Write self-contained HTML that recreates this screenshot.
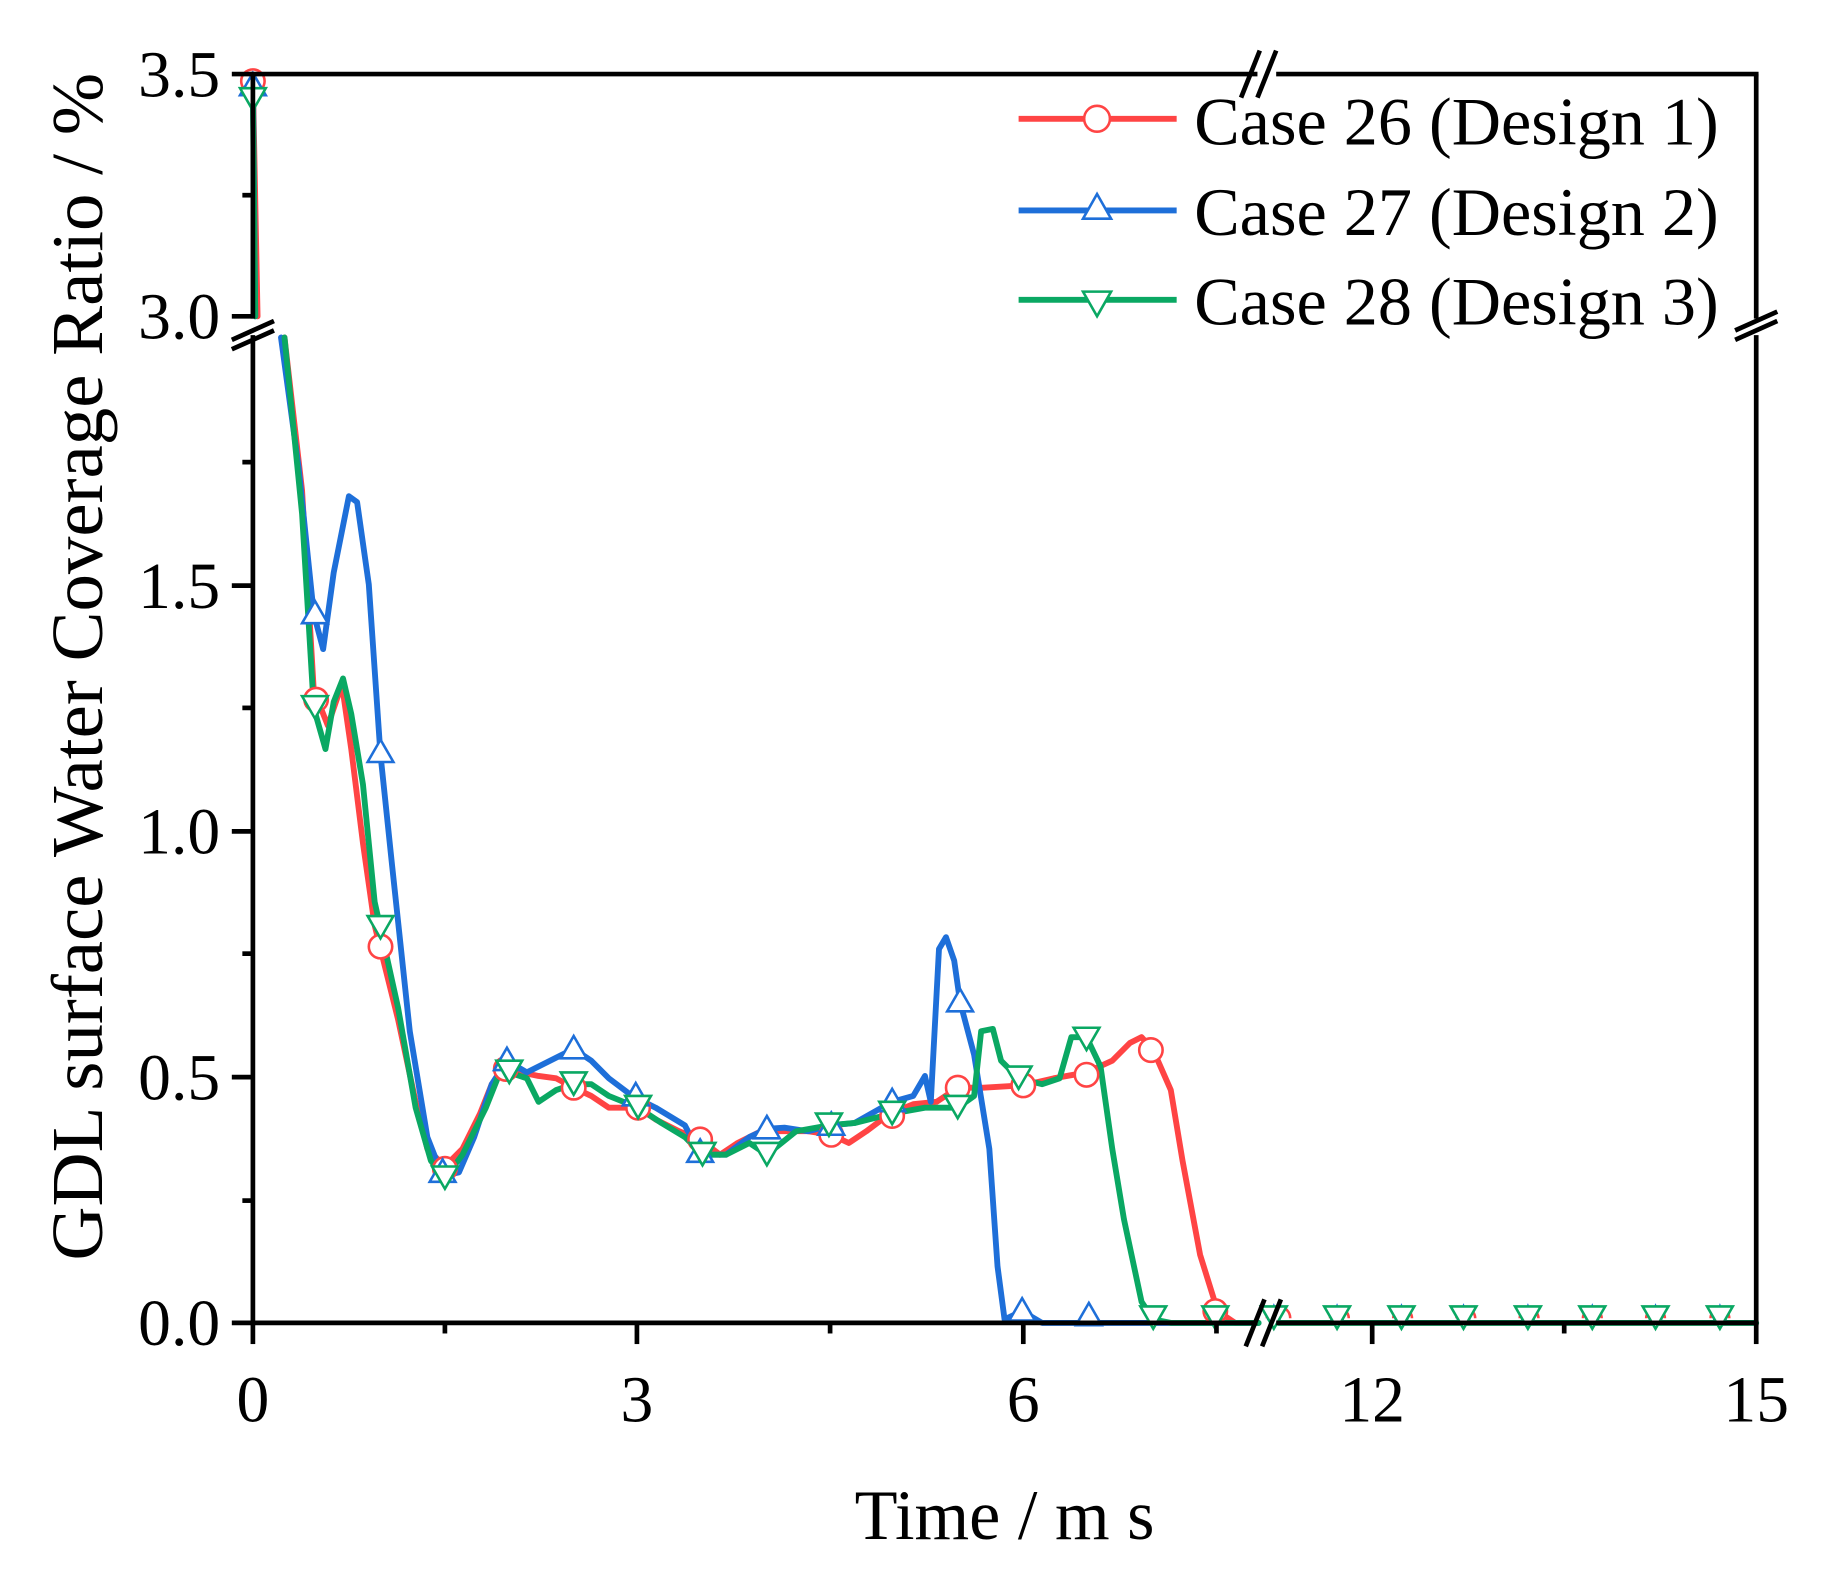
<!DOCTYPE html>
<html><head><meta charset="utf-8"><style>html,body{margin:0;padding:0;background:#fff}svg{display:block}</style></head>
<body>
<svg width="1837" height="1591" viewBox="0 3 1569 1353" preserveAspectRatio="none" xmlns="http://www.w3.org/2000/svg" font-family="Liberation Serif, serif">
<defs>
<circle id="c" r="10" fill="#fff" stroke="#f44" stroke-width="2.2"/>
<path id="t" d="M0,-11 L11,8 L-11,8 Z" fill="#fff" stroke="#1e6fd9" stroke-width="2.2"/>
<path id="v" d="M0,11 L11,-8 L-11,-8 Z" fill="#fff" stroke="#0aa863" stroke-width="2.2"/>
</defs>
<g fill="none" stroke-width="5" stroke-linejoin="round" stroke-linecap="round">
<polyline stroke="#f44" points="216,72 220,272"/>
<polyline stroke="#f44" points="243,290 258,420 268,590 280,620 292,585 300,640 310,720 320,790 340,870 355,940 365,980 380,995 395,980 410,950 420,925 432,912 445,915 460,918 475,920 490,928 505,935 520,945 545,945 560,955 580,965 598,972 615,985 630,975 650,965 670,965 690,965 710,968 725,975 740,965 760,950 780,942 800,940 818,928 840,928 874,926 900,920 928,915 950,905 965,890 975,885 985,896 1000,930 1010,990 1025,1070 1040,1118 1055,1128 1075,1128"/>
<polyline stroke="#1e6fd9" points="216,66 218,272"/>
<polyline stroke="#1e6fd9" points="240,290 255,400 268,525 276,555 285,490 298,425 305,430 315,500 325,645 335,740 350,880 365,970 378,1003 392,1000 405,970 420,925 433,905 450,915 470,905 490,895 505,905 520,920 540,935 560,945 585,960 598,985 620,985 640,970 655,963 670,962 690,965 710,960 730,958 762,940 780,935 790,918 795,940 802,810 808,800 815,820 820,855 832,900 845,980 852,1080 858,1125 873,1118 890,1128 1075,1128"/>
<polyline stroke="#0aa863" points="216,86 218,272"/>
<polyline stroke="#0aa863" points="243,290 258,440 268,605 278,640 285,600 293,580 300,610 310,670 320,770 340,860 355,945 368,990 380,1005 395,985 415,945 425,920 435,915 450,920 460,940 475,930 490,925 505,925 520,935 545,945 565,958 585,970 600,985 620,985 640,975 655,985 680,965 708,960 730,958 762,950 790,945 818,945 832,935 838,880 848,878 855,905 870,920 890,925 905,920 915,885 928,885 940,910 950,980 960,1040 975,1110 985,1125 1000,1128 1075,1128"/>
<polyline stroke="#0aa863" points="1092,1128 1500,1128"/>
</g>
<g>
<use href="#c" x="216" y="72"/><use href="#c" x="270" y="598"/><use href="#c" x="325" y="808"/><use href="#c" x="380" y="997"/><use href="#c" x="432" y="912"/><use href="#c" x="490" y="928"/><use href="#c" x="545" y="945"/><use href="#c" x="598" y="972"/><use href="#c" x="710" y="968"/><use href="#c" x="762" y="952"/><use href="#c" x="818" y="928"/><use href="#c" x="874" y="926"/><use href="#c" x="928" y="917"/><use href="#c" x="983" y="896"/><use href="#c" x="1038" y="1118"/>
<use href="#t" x="216" y="76"/><use href="#t" x="269" y="525"/><use href="#t" x="325" y="643"/><use href="#t" x="378" y="1000"/><use href="#t" x="433" y="905"/><use href="#t" x="490" y="895"/><use href="#t" x="543" y="935"/><use href="#t" x="598" y="983"/><use href="#t" x="655" y="963"/><use href="#t" x="710" y="960"/><use href="#t" x="762" y="940"/><use href="#t" x="820" y="855"/><use href="#t" x="873" y="1118"/><use href="#t" x="930" y="1122"/>
<use href="#v" x="216" y="86"/><use href="#v" x="269" y="603"/><use href="#v" x="325" y="790"/><use href="#v" x="380" y="1003"/><use href="#v" x="435" y="913"/><use href="#v" x="490" y="923"/><use href="#v" x="545" y="943"/><use href="#v" x="600" y="983"/><use href="#v" x="655" y="983"/><use href="#v" x="708" y="958"/><use href="#v" x="762" y="948"/><use href="#v" x="818" y="943"/><use href="#v" x="870" y="918"/><use href="#v" x="928" y="885"/><use href="#v" x="985" y="1122"/><use href="#v" x="1038" y="1122"/>
<g stroke-width="2.2" fill="none">
<path stroke="#f44" d="M1082,1124 a10,10 0 0 1 20,0 M1136,1124 a8,8 0 0 1 16,0 M1190,1124 a8,8 0 0 1 16,0 M1244,1124 a8,8 0 0 1 16,0 M1298,1124 a8,8 0 0 1 16,0 M1352,1124 a8,8 0 0 1 16,0 M1406,1124 a8,8 0 0 1 16,0 M1461,1124 a8,8 0 0 1 16,0"/>
<path stroke="#1e6fd9" d="M1083,1126 L1088,1114 L1093,1126 M1137,1126 L1142,1114 L1147,1126 M1192,1126 L1197,1114 L1202,1126 M1245,1126 L1250,1114 L1255,1126 M1300,1126 L1305,1114 L1310,1126 M1355,1126 L1360,1114 L1365,1126 M1409,1126 L1414,1114 L1419,1126 M1464,1126 L1469,1114 L1474,1126"/>
</g>
<use href="#v" x="1088" y="1122"/><use href="#v" x="1142" y="1122"/><use href="#v" x="1197" y="1122"/><use href="#v" x="1250" y="1122"/><use href="#v" x="1305" y="1122"/><use href="#v" x="1360" y="1122"/><use href="#v" x="1414" y="1122"/><use href="#v" x="1469" y="1122"/>
</g>
<g stroke="#000" stroke-width="4" fill="none">
<line x1="216" y1="66" x2="216" y2="274"/>
<line x1="216" y1="288" x2="216" y2="1130"/>
<line x1="1500" y1="66" x2="1500" y2="274"/>
<line x1="1500" y1="288" x2="1500" y2="1130"/>
<line x1="214" y1="66" x2="1074" y2="66"/>
<line x1="1090" y1="66" x2="1502" y2="66"/>
<line x1="214" y1="1128" x2="1074" y2="1128"/>
<line x1="1090" y1="1128" x2="1502" y2="1128"/>
<line x1="216" y1="1128" x2="198" y2="1128"/><line x1="216" y1="919" x2="198" y2="919"/><line x1="216" y1="710" x2="198" y2="710"/><line x1="216" y1="501" x2="198" y2="501"/>
<line x1="216" y1="1024" x2="207" y2="1024"/><line x1="216" y1="814" x2="207" y2="814"/><line x1="216" y1="605" x2="207" y2="605"/><line x1="216" y1="396" x2="207" y2="396"/>
<line x1="216" y1="272" x2="198" y2="272"/><line x1="216" y1="66" x2="198" y2="66"/><line x1="216" y1="169" x2="207" y2="169"/>
<line x1="216" y1="1128" x2="216" y2="1146"/><line x1="544" y1="1128" x2="544" y2="1146"/><line x1="874" y1="1128" x2="874" y2="1146"/><line x1="1172" y1="1128" x2="1172" y2="1146"/><line x1="1500" y1="1128" x2="1500" y2="1146"/>
<line x1="380" y1="1128" x2="380" y2="1137"/><line x1="709" y1="1128" x2="709" y2="1137"/><line x1="1039" y1="1128" x2="1039" y2="1137"/><line x1="1336" y1="1128" x2="1336" y2="1137"/>
<line x1="1060" y1="86" x2="1076" y2="46"/><line x1="1074" y1="86" x2="1090" y2="46"/>
<line x1="1064" y1="1148" x2="1080" y2="1108"/><line x1="1078" y1="1148" x2="1094" y2="1108"/>
<line x1="198" y1="292" x2="234" y2="276"/><line x1="198" y1="300" x2="234" y2="284"/>
<line x1="1482" y1="284" x2="1518" y2="268"/><line x1="1482" y1="292" x2="1518" y2="276"/>
</g>
<g font-size="56" fill="#000" text-anchor="end">
<text x="188" y="85">3.5</text><text x="188" y="291">3.0</text>
<text x="188" y="520">1.5</text><text x="188" y="729">1.0</text><text x="188" y="938">0.5</text><text x="188" y="1147">0.0</text>
</g>
<g font-size="56" fill="#000" text-anchor="middle">
<text x="216" y="1212">0</text><text x="544" y="1212">3</text><text x="874" y="1212">6</text><text x="1172" y="1212">12</text><text x="1500" y="1212">15</text>
</g>
<text x="858" y="1312" font-size="60" text-anchor="middle">Time / m s</text>
<text transform="translate(87,570) rotate(-90)" font-size="62" text-anchor="middle" textLength="1010" lengthAdjust="spacingAndGlyphs">GDL surface Water Coverage Ratio / %</text>
<g stroke-width="5">
<line x1="870" y1="104" x2="1005" y2="104" stroke="#f44"/>
<line x1="870" y1="182" x2="1005" y2="182" stroke="#1e6fd9"/>
<line x1="870" y1="258" x2="1005" y2="258" stroke="#0aa863"/>
</g>
<circle cx="937" cy="104" r="11" fill="#fff" stroke="#f44" stroke-width="2.2"/>
<path d="M937,168 L949,189 L925,189 Z" fill="#fff" stroke="#1e6fd9" stroke-width="2.2"/>
<path d="M937,272 L949,251 L925,251 Z" fill="#fff" stroke="#0aa863" stroke-width="2.2"/>
<g font-size="58" fill="#000">
<text x="1020" y="126" textLength="448" lengthAdjust="spacingAndGlyphs">Case 26 (Design 1)</text>
<text x="1020" y="203" textLength="448" lengthAdjust="spacingAndGlyphs">Case 27 (Design 2)</text>
<text x="1020" y="279" textLength="448" lengthAdjust="spacingAndGlyphs">Case 28 (Design 3)</text>
</g>
</svg>
</body></html>
